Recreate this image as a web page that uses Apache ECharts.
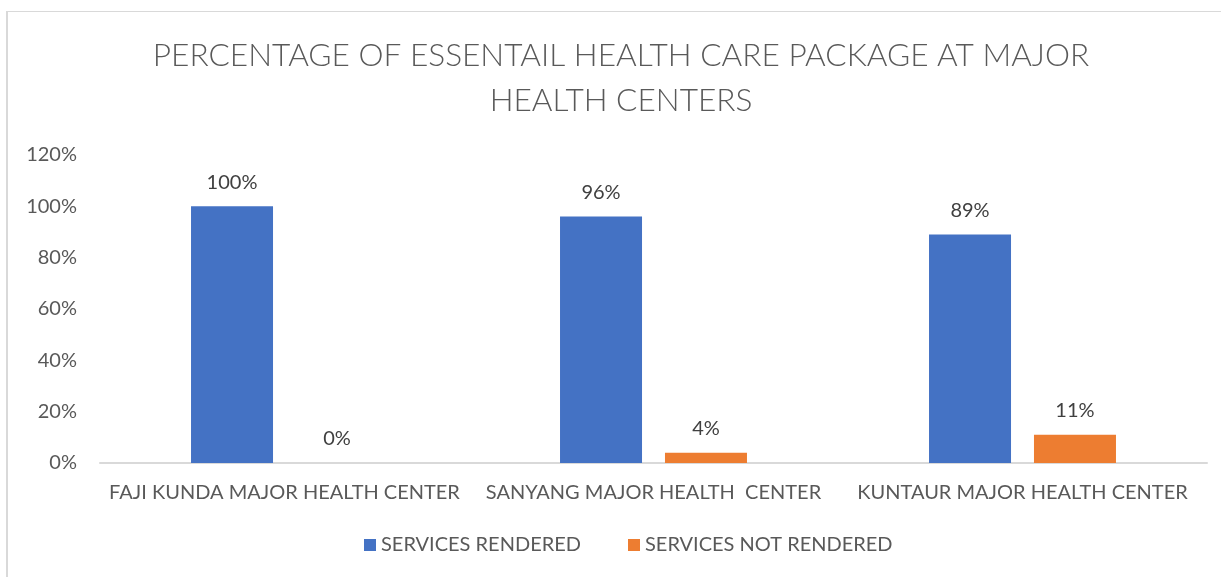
<!DOCTYPE html>
<html>
<head>
<meta charset="utf-8">
<script src="https://cdn.jsdelivr.net/npm/echarts@6/dist/echarts.min.js"></script>
<style>
  html, body { margin: 0; padding: 0; background: #fff; }
  #frame { position: absolute; left: 6px; top: 11px; width: 1215px; height: 566px;
           border-left: 2px solid #d9d9d9; border-top: 1px solid #d9d9d9; }
  #chart { position: absolute; left: 0; top: 0; width: 1221px; height: 577px; }
</style>
</head>
<body>
<div id="frame"></div>
<div id="chart"></div>
<script>
// Health centres and share of the essential health care package delivered
const categories = ['FAJI KUNDA MAJOR HEALTH CENTER', 'SANYANG MAJOR HEALTH  CENTER', 'KUNTAUR MAJOR HEALTH CENTER'];
const rendered = [100, 96, 89];
const notRendered = [0, 4, 11];
const seriesNames = ['SERVICES RENDERED', 'SERVICES NOT RENDERED'];
const titleText = 'PERCENTAGE OF ESSENTAIL HEALTH CARE PACKAGE AT MAJOR\nHEALTH CENTERS';

const FONT = 'Lato, "Open Sans", sans-serif';
const TEXT = '#595959';

const chart = echarts.init(document.getElementById('chart'), null, { renderer: 'canvas' });

const labelCfg = {
  show: true,
  position: 'top',
  distance: 14,
  color: '#404040',
  fontFamily: FONT,
  fontSize: 20,
  formatter: p => p.value + '%'
};

chart.setOption({
  animation: false,
  backgroundColor: 'transparent',
  title: {
    text: titleText,
    left: 616,
    top: 28,
    textAlign: 'center',
    textStyle: { color: TEXT, fontFamily: FONT, fontWeight: 300, fontSize: 31.6, lineHeight: 45 }
  },
  legend: {
    data: seriesNames,
    bottom: 17,
    left: 359,
    itemWidth: 12,
    itemHeight: 12,
    itemGap: 47,
    icon: 'rect',
    textStyle: { color: TEXT, fontFamily: FONT, fontSize: 20 }
  },
  grid: { left: 100, right: 14, top: 155, bottom: 114, containLabel: false },
  xAxis: {
    type: 'category',
    data: categories,
    axisLine: { lineStyle: { color: '#d9d9d9', width: 2 } },
    axisTick: { show: false },
    axisLabel: { color: TEXT, fontFamily: FONT, fontSize: 20, margin: 20, interval: 0 }
  },
  yAxis: {
    type: 'value',
    min: 0,
    max: 120,
    interval: 20,
    axisLine: { show: false },
    axisTick: { show: false },
    splitLine: { show: false },
    axisLabel: { color: TEXT, fontFamily: FONT, fontSize: 20, margin: 23, formatter: v => v + '%' }
  },
  series: [
    {
      name: seriesNames[0],
      type: 'bar',
      data: rendered,
      barWidth: 82,
      barGap: '28%',
      itemStyle: { color: '#4472c4' },
      label: labelCfg
    },
    {
      name: seriesNames[1],
      type: 'bar',
      data: notRendered,
      barWidth: 82,
      itemStyle: { color: '#ed7d31' },
      label: labelCfg
    }
  ]
});
</script>
</body>
</html>
